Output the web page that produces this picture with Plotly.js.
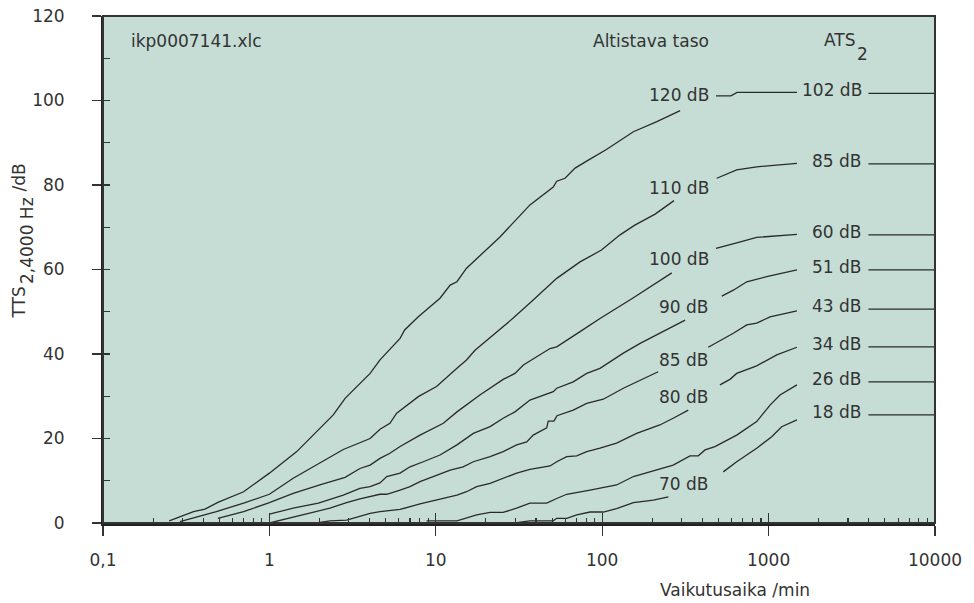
<!DOCTYPE html>
<html>
<head>
<meta charset="utf-8">
<script src="https://cdn.plot.ly/plotly-3.0.1.min.js"></script>
<style>
html,body{margin:0;padding:0;background:#fff;}
#chart{width:974px;height:603px;}
</style>
</head>
<body>
<div id="chart"></div>
<script>
// ---- Data (exposure time in min, TTS in dB) ----
// null = break in the curve where the exposure-level label sits
const t120 = [0.25, 0.35, 0.41, 0.49, 0.70, 1.0, 1.46, 1.92, 2.42, 2.85, 4.03, 4.62, 5.3, 6.1, 6.5, 7.85, 10.6, 12.2, 13.4, 15.3, 24.3, 36.8, 50.8, 53.3, 59.8, 68.7, 82.5, 106, 154, 213, 294, null, 483, 594, 646, 1480];
const y120 = [0.5, 2.7, 3.3, 4.9, 7.4, 11.8, 16.9, 21.6, 25.6, 29.5, 35.4, 38.6, 41.0, 43.7, 45.7, 48.8, 53.2, 56.3, 57.1, 60.3, 67.7, 75.3, 79.5, 80.9, 81.6, 84.0, 85.9, 88.4, 92.6, 95.0, 97.6, null, 101.1, 101.1, 101.9, 101.9];

const t110 = [0.29, 0.48, 0.70, 1.0, 1.39, 1.92, 2.78, 4.03, 4.62, 5.3, 5.82, 7.85, 10.1, 13.4, 15.3, 17.2, 23.2, 29.2, 38.5, 53.3, 73.6, 99, 128, 157, 208, 270, null, 488, 643, 848, 1480];
const y110 = [0.3, 2.7, 4.7, 6.8, 10.6, 13.7, 17.4, 20.0, 22.2, 23.6, 26.0, 29.9, 32.3, 36.6, 38.6, 40.9, 45.3, 48.5, 52.8, 57.9, 61.8, 64.6, 68.2, 70.5, 73.1, 76.3, null, 81.6, 83.6, 84.3, 85.1];

const t100 = [0.49, 0.70, 1.0, 1.39, 2.01, 2.85, 3.5, 4.03, 4.62, 5.3, 6.1, 8.04, 11.1, 13.4, 18.4, 25.4, 29.9, 33.6, 48.6, 53.3, 73.6, 97, 154, 262, null, 483, 586, 643, 848, 1480];
const y100 = [1.1, 2.7, 4.8, 7.0, 9.0, 10.8, 12.9, 13.7, 15.3, 16.5, 18.1, 20.8, 23.6, 26.3, 30.3, 34.0, 35.4, 37.4, 41.3, 41.7, 45.3, 48.4, 53.3, 59.2, null, 65.0, 66.0, 66.3, 67.6, 68.3];

const t90 = [1.0, 1.39, 1.97, 2.78, 3.5, 4.03, 4.62, 5.07, 6.1, 7.0, 8.41, 10.6, 13.4, 16.8, 21.2, 25.4, 29.9, 33.6, 36.8, 50.8, 53.3, 67, 80.7, 97, 134, 169, 213, 267, 315, null, 523, 614, 739, 974, 1480];
const y90 = [2.1, 3.5, 4.7, 6.6, 8.2, 8.6, 9.5, 11.0, 11.8, 13.3, 14.5, 16.1, 18.5, 21.2, 22.8, 24.8, 26.3, 27.9, 29.1, 31.1, 31.9, 33.4, 35.4, 36.6, 40.2, 42.5, 44.5, 46.5, 48.0, null, 53.7, 55.1, 57.1, 58.3, 59.9];

const t85 = [1.0, 1.97, 2.31, 2.91, 3.5, 4.62, 5.07, 6.1, 7.0, 8.04, 12.2, 14.6, 16.8, 21.2, 25.4, 30.6, 35.2, 38.5, 46.4, 47.4, 51.3, 53.5, 67, 80.7, 101.5, 134, 169, 217, null, 434, 614, 739, 848, 1020, 1480];
const y85 = [0.0, 2.7, 3.5, 4.8, 5.7, 6.8, 6.8, 7.8, 8.6, 9.8, 12.5, 13.3, 14.5, 15.7, 16.9, 18.5, 19.2, 20.8, 22.5, 24.1, 24.1, 25.4, 26.7, 28.3, 29.3, 31.9, 33.8, 35.8, null, 41.6, 44.9, 46.9, 47.3, 48.8, 50.2];

const t80 = [1.92, 2.31, 2.91, 4.03, 4.62, 6.1, 8.04, 10.6, 13.4, 15.3, 17.6, 21.2, 30.6, 36.8, 48.6, 53.3, 61.2, 70.3, 80.7, 97, 122, 161, 222, 267, 329, null, 510, 586, 643, 848, 1119, 1480];
const y80 = [0.0, 0.5, 0.7, 2.3, 2.7, 3.2, 4.5, 5.6, 6.6, 7.4, 8.6, 9.4, 11.8, 12.7, 13.5, 14.5, 15.7, 15.9, 16.9, 17.7, 18.9, 21.2, 23.2, 24.8, 26.7, null, 32.7, 34.0, 35.4, 37.2, 39.8, 41.6];

const t75 = [8.8, 13.4, 17.6, 21.2, 25.4, 30.6, 36.8, 46.4, 53.3, 61.2, 84.5, 122, 154, 267, 337, 378, 415, 476, 643, 848, 1020, 1171, 1480];
const y75 = [0.5, 0.5, 1.9, 2.5, 2.5, 3.5, 4.7, 4.7, 5.8, 6.8, 7.8, 9.0, 11.0, 13.7, 15.9, 15.9, 17.3, 18.1, 20.8, 24.0, 27.9, 30.3, 32.7];

const t70 = [30.6, 36.8, 50.8, 53.3, 61.2, 70.3, 84.5, 101.5, 122, 154, 203, 250, null, 534, 643, 848, 1044, 1199, 1480];
const y70 = [0.1, 0.5, 0.5, 1.1, 1.1, 1.9, 2.6, 2.6, 3.4, 4.8, 5.4, 6.2, null, 12.1, 14.5, 17.7, 20.4, 22.8, 24.4];

// exposure levels (left labels) and asymptotic threshold shifts ATS2 (right labels)
const levelLabels = ['120 dB', '110 dB', '100 dB', '90 dB', '85 dB', '80 dB', '', '70 dB'];
const atsLabels   = ['102 dB', '85 dB', '60 dB', '51 dB', '43 dB', '34 dB', '26 dB', '18 dB'];
const atsLevels   = [101.7, 85.0, 68.2, 59.9, 50.6, 41.7, 33.4, 25.6];
const atsFrom = 3980, atsTo = 10000;

const xTickVals = [0.1, 1, 10, 100, 1000, 10000];
const xTickText = ['0,1', '1', '10', '100', '1000', '10000'];
const fileName = 'ikp0007141.xlc';
const legendTitle = 'Altistava taso';

// ---- Build traces ----
const curvesT = [t120, t110, t100, t90, t85, t80, t75, t70];
const curvesY = [y120, y110, y100, y90, y85, y80, y75, y70];
const lineColor = '#2a2a2a';
const traces = [];
curvesT.forEach((t, i) => {
  traces.push({type: 'scatter', mode: 'lines', x: t, y: curvesY[i], connectgaps: false,
    line: {color: lineColor, width: 1.3}, hoverinfo: 'skip', showlegend: false});
});
atsLevels.forEach(a => {
  traces.push({type: 'scatter', mode: 'lines', x: [atsFrom, atsTo], y: [a, a],
    line: {color: lineColor, width: 1.3}, hoverinfo: 'skip', showlegend: false});
});
// empty helper traces so the overlay tick axes exist
traces.push({type: 'scatter', x: [], y: [], xaxis: 'x2', yaxis: 'y', showlegend: false});
traces.push({type: 'scatter', x: [], y: [], xaxis: 'x3', yaxis: 'y', showlegend: false});
traces.push({type: 'scatter', x: [], y: [], xaxis: 'x', yaxis: 'y2', showlegend: false});

const minorVals = [];
[0.1, 1, 10, 100, 1000].forEach(d => { for (let m = 2; m <= 9; m++) minorVals.push(+(d * m).toPrecision(3)); });

// ---- Annotations ----
const txt = '#333';
const F = 17;
const ann = [];
const levelLabelY = [101.2, 79.4, 62.4, 51.2, 38.6, 29.8, null, 9.2];
levelLabels.forEach((s, i) => {
  if (!s) return;
  ann.push({xref: 'x', yref: 'y', x: 2.654, y: levelLabelY[i], text: s, showarrow: false,
    xanchor: 'right', yanchor: 'middle', font: {size: F, color: txt}});
});
atsLabels.forEach((s, i) => {
  ann.push({xref: 'x', yref: 'y', x: 3.573, y: atsLevels[i], yshift: 3, text: s, showarrow: false,
    xanchor: 'right', yanchor: 'middle', font: {size: F, color: txt}});
});
ann.push({xref: 'x', yref: 'y', x: -0.844, y: 114, text: fileName, showarrow: false, xanchor: 'left', yanchor: 'middle', font: {size: F, color: txt}});
ann.push({xref: 'x', yref: 'y', x: 2.654, y: 114, text: legendTitle, showarrow: false, xanchor: 'right', yanchor: 'middle', font: {size: F, color: txt}});
ann.push({xref: 'x', yref: 'y', x: 3.319, y: 114.3, text: 'ATS', showarrow: false, xanchor: 'left', yanchor: 'middle', font: {size: F, color: txt}});
ann.push({xref: 'x', yref: 'y', x: 3.519, y: 111.0, text: '2', showarrow: false, xanchor: 'left', yanchor: 'middle', font: {size: F, color: txt}});
// axis titles
ann.push({xref: 'paper', yref: 'paper', x: 0.7602, y: -0.1321, text: 'Vaikutusaika /min', showarrow: false, xanchor: 'center', yanchor: 'middle', font: {size: F, color: txt}});
ann.push({xref: 'paper', yref: 'paper', x: -0.1004, y: 0.4359, text: 'TTS', textangle: -90, showarrow: false, xanchor: 'center', yanchor: 'middle', font: {size: F, color: txt}});
ann.push({xref: 'paper', yref: 'paper', x: -0.0907, y: 0.5572, text: '2,4000 Hz', textangle: -90, showarrow: false, xanchor: 'center', yanchor: 'middle', font: {size: F, color: txt}});
ann.push({xref: 'paper', yref: 'paper', x: -0.1004, y: 0.6824, text: '/dB', textangle: -90, showarrow: false, xanchor: 'center', yanchor: 'middle', font: {size: F, color: txt}});

const axCommon = {showgrid: false, zeroline: false, fixedrange: true};
const layout = {
  width: 974, height: 603,
  margin: {l: 103, r: 39, t: 16, b: 80, pad: 0},
  paper_bgcolor: '#ffffff',
  plot_bgcolor: '#c5ddd5',
  font: {family: 'DejaVu Sans, sans-serif', size: F, color: txt},
  showlegend: false,
  xaxis: Object.assign({}, axCommon, {type: 'log', range: [-1, 4], tickvals: xTickVals, ticktext: xTickText,
    ticks: 'outside', ticklen: 10, tickwidth: 1.3, tickcolor: '#333', showline: true, linewidth: 3, linecolor: '#222',
    ticklabelstandoff: 10, tickfont: {size: F, color: txt}}),
  xaxis2: Object.assign({}, axCommon, {type: 'log', range: [-1, 4], overlaying: 'x', anchor: 'y', side: 'bottom',
    tickvals: xTickVals, ticks: 'inside', ticklen: 10, tickwidth: 1.3, tickcolor: '#333', showticklabels: false, showline: false}),
  xaxis3: Object.assign({}, axCommon, {type: 'log', range: [-1, 4], overlaying: 'x', anchor: 'y', side: 'bottom',
    tickvals: minorVals, ticks: 'inside', ticklen: 5, tickwidth: 1.1, tickcolor: '#333', showticklabels: false, showline: false}),
  yaxis: Object.assign({}, axCommon, {range: [0, 120], tick0: 0, dtick: 20, ticks: 'outside', ticklen: 9, tickwidth: 1.3,
    tickcolor: '#333', showline: true, linewidth: 2, linecolor: '#222', ticklabelstandoff: 24, tickfont: {size: F, color: txt}}),
  yaxis2: Object.assign({}, axCommon, {range: [0, 120], overlaying: 'y', anchor: 'x', side: 'left', tick0: 0, dtick: 10,
    ticks: 'inside', ticklen: 7, tickwidth: 1.1, tickcolor: '#333', showticklabels: false, showline: false}),
  shapes: [{type: 'rect', xref: 'paper', yref: 'paper', x0: 0, x1: 1, y0: 0, y1: 1, line: {color: '#333', width: 2}, layer: 'above'}],
  annotations: ann
};

Plotly.newPlot('chart', traces, layout, {displayModeBar: false, staticPlot: true});
</script>
</body>
</html>
